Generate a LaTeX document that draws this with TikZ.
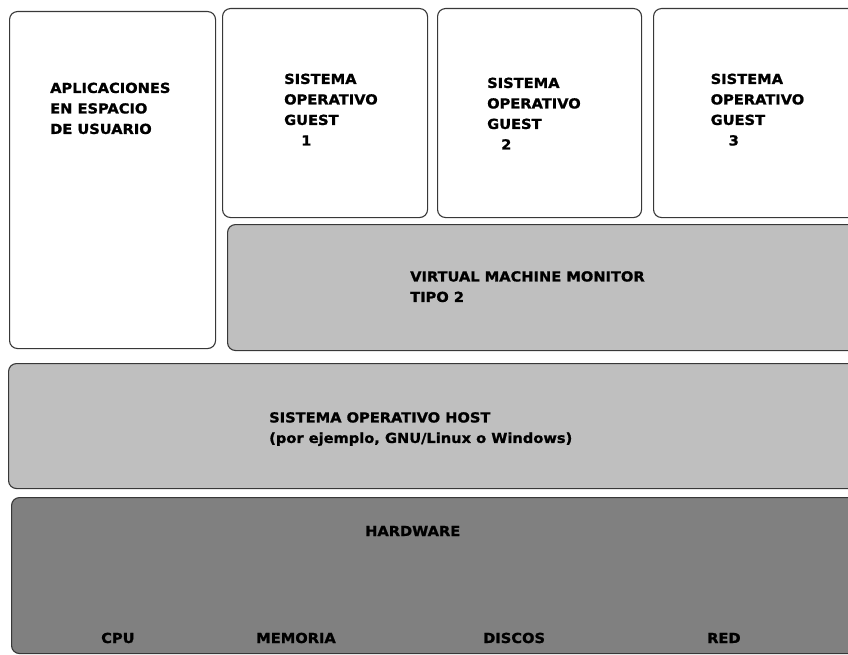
\documentclass[tikz,border=0pt]{standalone}
\usepackage{fontspec}
\newfontfamily\labfont[FakeStretch=1.06,FakeBold=1.2]{DejaVu Sans}
\tikzset{
  layer/.style={draw=black!78, line width=1.1pt, rounded corners=8pt, anchor=north west, inner sep=0pt},
  whitebox/.style={layer, fill=white},
  lightbox/.style={layer, fill=black!25},
  darkbox/.style={layer, fill=black!50},
  lab/.style={font={\labfont\bfseries\fontsize{13.8}{20.5}\selectfont}, align=left, inner sep=0pt, text=black},
}
\begin{document}
\begin{tikzpicture}[x=1pt,y=-1pt]
\clip (0,0) rectangle (848,655);
\fill[white] (0,0) rectangle (848,655);
% boxes
\node[whitebox, minimum width=206pt, minimum height=337pt] (apps) at (9,11) {};
\node[whitebox, minimum width=205pt, minimum height=209pt] (g1) at (222,8) {};
\node[whitebox, minimum width=204pt, minimum height=209pt] (g2) at (437,8) {};
\node[whitebox, minimum width=210pt, minimum height=209pt] (g3) at (653,8) {};
\node[lightbox, minimum width=640pt, minimum height=126pt] (vmm) at (227,224) {};
\node[lightbox, minimum width=850pt, minimum height=125pt] (host) at (8,363) {};
\node[darkbox, minimum width=850pt, minimum height=156pt] (hw) at (11,497) {};
% labels
\node[lab, anchor=north west] (tapps) at (50,82.5) {APLICACIONES\\EN ESPACIO\\DE USUARIO};
\node[lab, anchor=north west] (tg1) at (284,73.5) {SISTEMA\\OPERATIVO\\GUEST\\\hspace*{17pt}1};
\node[lab, anchor=north west] (tg2) at (487,77.5) {SISTEMA\\OPERATIVO\\GUEST\\\hspace*{14pt}2};
\node[lab, anchor=north west] (tg3) at (710.5,73.5) {SISTEMA\\OPERATIVO\\GUEST\\\hspace*{18pt}3};
\node[lab, anchor=north west] (tvmm) at (410,271) {VIRTUAL MACHINE MONITOR\\TIPO 2};
\node[lab, anchor=north west] (thost) at (269,412) {SISTEMA OPERATIVO HOST\\(por ejemplo, GNU/Linux o Windows)};
\node[lab, anchor=base west] (thw) at (365,536) {HARDWARE};
\node[lab, anchor=base west] (tcpu) at (101,643) {CPU};
\node[lab, anchor=base west] (tmem) at (256,643) {MEMORIA};
\node[lab, anchor=base west] (tdis) at (483,643) {DISCOS};
\node[lab, anchor=base west] (tred) at (707,643) {RED};
\end{tikzpicture}
\end{document}
